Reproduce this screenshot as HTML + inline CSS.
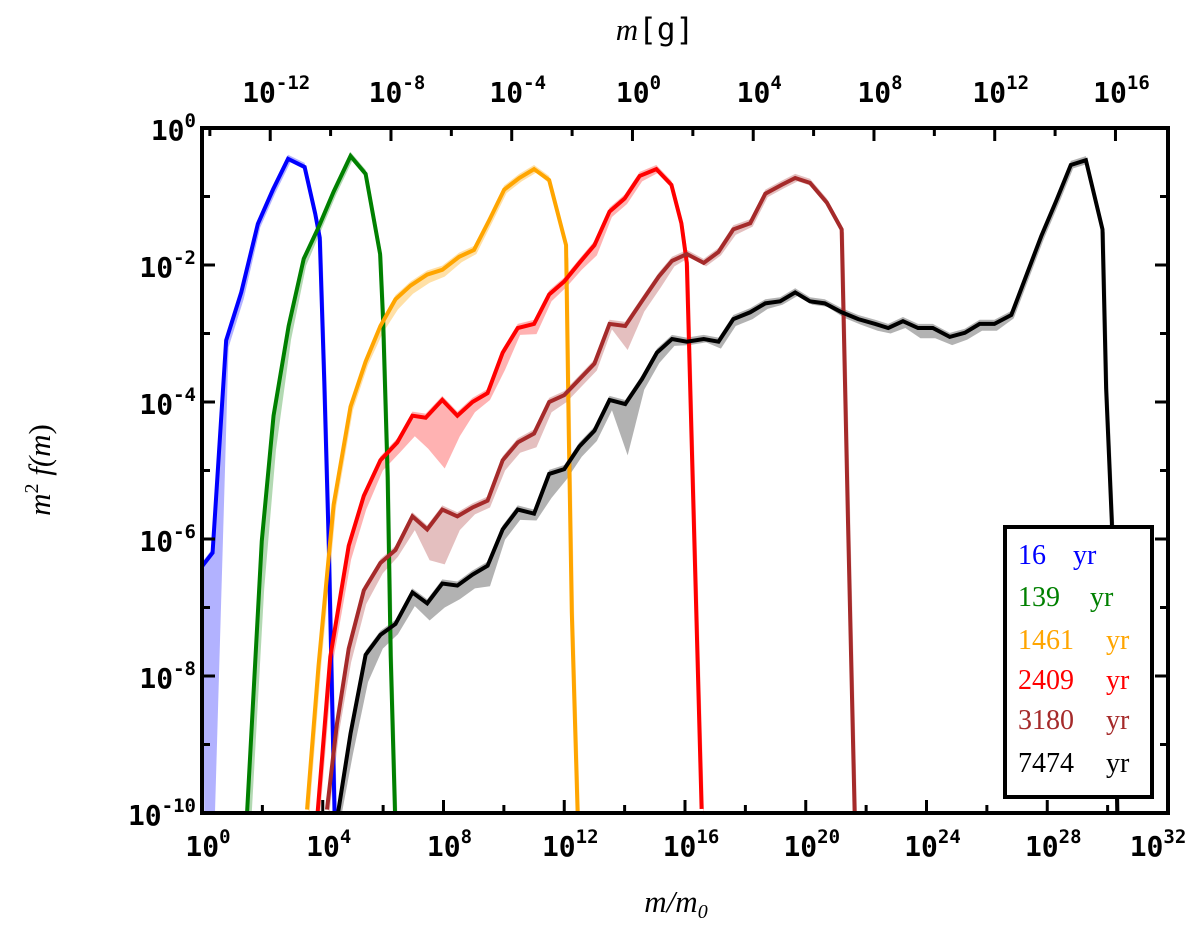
<!DOCTYPE html>
<html><head><meta charset="utf-8"><style>
html,body{margin:0;padding:0;background:#fff}
svg{display:block}
.tk{font-family:"DejaVu Sans Mono","Liberation Mono",monospace;font-weight:bold;font-size:28px;fill:#000}
.sup{font-size:19px}
.ttl{font-family:"Liberation Serif",serif;font-style:italic;font-size:31px}
.lg{font-family:"Liberation Serif",serif;font-size:28px}
</style></head><body>
<svg id="chart" width="1200" height="948" viewBox="0 0 1200 948" xmlns="http://www.w3.org/2000/svg">
<defs><clipPath id="clip"><rect x="202" y="128" width="966" height="685"/></clipPath></defs>
<g id="bands" clip-path="url(#clip)"></g>
<g id="lines" clip-path="url(#clip)"></g>
<g id="axes"></g>
<text class="ttl" x="655" y="40" text-anchor="middle">m<tspan font-style="normal" font-family="DejaVu Sans Mono">[g]</tspan></text>
<text class="ttl" x="676" y="912" text-anchor="middle">m/m<tspan font-size="20" dy="6">0</tspan></text>
<text class="ttl" transform="translate(50,470) rotate(-90)" text-anchor="middle">m<tspan font-style="normal" font-size="20" dy="-12">2</tspan><tspan dy="12"> f(</tspan>m<tspan font-style="normal">)</tspan></text>
<g>
<rect x="1005" y="527" width="147" height="270" fill="#fff" stroke="#000" stroke-width="4"/>
<text class="lg" x="1018" y="564" fill="#0000ff">16<tspan x="1073">yr</tspan></text>
<text class="lg" x="1018" y="606" fill="#008000">139<tspan x="1090">yr</tspan></text>
<text class="lg" x="1018" y="649" fill="#ffa500">1461<tspan x="1106">yr</tspan></text>
<text class="lg" x="1018" y="689" fill="#ff0000">2409<tspan x="1106">yr</tspan></text>
<text class="lg" x="1018" y="729" fill="#a52a2a">3180<tspan x="1106">yr</tspan></text>
<text class="lg" x="1018" y="772" fill="#000">7474<tspan x="1106">yr</tspan></text>
</g>
</svg>
<script>
// log10(m/m0) and log10(m^2 f(m))
const blueX=[0,0.35,0.8,1.3,1.85,2.35,2.85,3.4,3.75,3.9,4.05,4.2,4.4];
const blueY=[-6.4,-6.2,-3.1,-2.4,-1.4,-0.9,-0.45,-0.57,-1.25,-1.6,-3.7,-6.1,-10.2];
const blueDn=[3.8,3.8,0.1,0.1,0.05,0.05,0.05,0.05,0.05,0.05,0.05,0.05,0.05];
const greenX=[1.48,1.98,2.37,2.87,3.37,3.86,4.36,4.92,5.42,5.9,6.0,6.15,6.25,6.4];
const greenY=[-10.1,-6.03,-4.2,-2.89,-1.91,-1.45,-0.93,-0.41,-0.67,-1.84,-2.82,-5.1,-7.7,-10.1];
const greenDn=[0.6,0.7,0.5,0.2,0.1,0.05,0.05,0.05,0.05,0.05,0.05,0.05,0.05,0.05];
const orangeX=[3.48,3.86,4.36,4.92,5.42,5.91,6.41,6.91,7.46,7.96,8.52,9.01,9.51,10.01,10.51,11.0,11.5,12.06,12.15,12.25,12.45];
const orangeY=[-9.95,-7.85,-5.5,-4.07,-3.41,-2.89,-2.5,-2.3,-2.14,-2.07,-1.88,-1.78,-1.35,-0.9,-0.73,-0.6,-0.76,-1.71,-4.46,-7.07,-10.1];
const orangeDn=[0.05,0.05,0.05,0.05,0.05,0.1,0.15,0.12,0.12,0.1,0.08,0.06,0.05,0.05,0.05,0.05,0.08,0.2,0.05,0.05,0.05];
const redX=[3.81,4.25,4.86,5.36,5.91,6.47,6.97,7.41,7.96,8.46,8.96,9.46,9.96,10.46,11.0,11.5,12.0,12.5,13.0,13.5,14.0,14.5,15.05,15.55,15.88,16.06,16.55];
const redY=[-10.1,-7.72,-6.1,-5.37,-4.85,-4.59,-4.2,-4.23,-3.97,-4.2,-4.0,-3.87,-3.28,-2.92,-2.86,-2.43,-2.24,-1.97,-1.71,-1.22,-1.03,-0.7,-0.6,-0.83,-1.39,-1.97,-9.94];
const redDn=[0.05,0.1,0.2,0.2,0.15,0.15,0.3,0.45,1.0,0.3,0.15,0.1,0.25,0.1,0.15,0.1,0.08,0.1,0.15,0.08,0.08,0.08,0.05,0.05,0.05,0.05,0.05];
const brownX=[4.14,4.47,4.86,5.36,5.91,6.41,6.97,7.46,7.96,8.46,8.96,9.46,9.96,10.46,11.0,11.5,12.0,12.5,13.0,13.5,14.02,14.57,15.13,15.57,16.06,16.62,17.11,17.6,18.16,18.66,19.2,19.65,20.14,20.7,21.19,21.4,21.62];
const brownY=[-9.95,-8.7,-7.6,-6.75,-6.35,-6.16,-5.67,-5.86,-5.57,-5.67,-5.54,-5.44,-4.85,-4.59,-4.46,-4.0,-3.9,-3.67,-3.44,-2.86,-2.89,-2.53,-2.17,-1.94,-1.84,-1.97,-1.81,-1.48,-1.39,-0.96,-0.83,-0.73,-0.8,-1.09,-1.48,-5.76,-10.0];
const brownDn=[0.05,0.1,0.2,0.2,0.15,0.1,0.2,0.45,0.8,0.2,0.1,0.1,0.15,0.15,0.2,0.15,0.1,0.1,0.1,0.08,0.35,0.15,0.15,0.08,0.05,0.05,0.05,0.08,0.05,0.05,0.05,0.05,0.05,0.05,0.05,0.05,0.05];
const blackX=[4.47,4.92,5.42,5.91,6.41,6.97,7.46,7.96,8.46,8.96,9.46,9.96,10.46,11.0,11.5,12.0,12.5,13.0,13.5,14.02,14.57,15.07,15.57,16.06,16.62,17.11,17.6,18.16,18.66,19.15,19.65,20.14,20.63,21.19,21.74,22.3,22.73,23.22,23.72,24.21,24.77,25.27,25.76,26.25,26.81,27.8,28.3,28.78,29.28,29.83,29.95,30.14,30.32];
const blackY=[-10.1,-8.84,-7.69,-7.4,-7.24,-6.78,-6.94,-6.65,-6.68,-6.52,-6.39,-5.86,-5.57,-5.63,-5.05,-4.98,-4.65,-4.42,-3.97,-4.03,-3.67,-3.28,-3.08,-3.12,-3.08,-3.12,-2.79,-2.69,-2.56,-2.53,-2.4,-2.53,-2.56,-2.69,-2.79,-2.86,-2.92,-2.82,-2.92,-2.92,-3.05,-2.99,-2.86,-2.86,-2.73,-1.58,-1.06,-0.54,-0.47,-1.48,-3.8,-5.76,-10.0];
const blackDn=[0.1,0.3,0.4,0.2,0.15,0.2,0.25,0.35,0.2,0.2,0.3,0.15,0.15,0.1,0.35,0.15,0.15,0.15,0.15,0.75,0.15,0.15,0.1,0.05,0.05,0.1,0.1,0.1,0.08,0.05,0.05,0.05,0.05,0.08,0.08,0.1,0.08,0.1,0.15,0.15,0.12,0.1,0.1,0.1,0.05,0.05,0.05,0.05,0.05,0.05,0.05,0.05,0.05];
const xTicksBottom=[0,4,8,12,16,20,24,28,32];
const yTicksLeft=[0,-2,-4,-6,-8,-10];
const xTicksTop=[-12,-8,-4,0,4,8,12,16];
const gramOffset=14.26;

const X0=202,X1=1168,Y0=128,Y1=813;
const sx=l=>X0+(l-0)/32*(X1-X0);
const sy=l=>Y0+(0-l)/10*(Y1-Y0);
const NS='http://www.w3.org/2000/svg';
function mk(tag,parent){const e=document.createElementNS(NS,tag);parent.appendChild(e);return e;}
const bands=document.getElementById('bands'),lines=document.getElementById('lines'),axes=document.getElementById('axes');

const series=[
 {n:'16yr',x:blueX,y:blueY,d:blueDn,c:'#0000ff',b:'rgba(0,0,255,0.3)'},
 {n:'139yr',x:greenX,y:greenY,d:greenDn,c:'#008000',b:'rgba(0,128,0,0.3)'},
 {n:'1461yr',x:orangeX,y:orangeY,d:orangeDn,c:'#ffa500',b:'rgba(255,165,0,0.35)'},
 {n:'2409yr',x:redX,y:redY,d:redDn,c:'#ff0000',b:'rgba(255,0,0,0.3)'},
 {n:'3180yr',x:brownX,y:brownY,d:brownDn,c:'#a52a2a',b:'rgba(165,42,42,0.3)'},
 {n:'7474yr',x:blackX,y:blackY,d:blackDn,c:'#000000',b:'rgba(0,0,0,0.3)'}
];
series.forEach(s=>{
  let up=[],dn=[];
  for(let i=0;i<s.x.length;i++){up.push(sx(s.x[i])+','+sy(s.y[i]+0.06));dn.push(sx(s.x[i]+0.08)+','+sy(s.y[i]-s.d[i]));}
  const p=mk('polygon',bands);
  p.setAttribute('points',up.concat(dn.reverse()).join(' '));
  p.setAttribute('fill',s.b);
  
  
});
series.forEach(s=>{
  const pts=s.x.map((v,i)=>sx(v)+','+sy(s.y[i])).join(' ');
  const l=mk('polyline',lines);
  l.setAttribute('points',pts);
  l.setAttribute('fill','none');
  l.setAttribute('stroke',s.c);
  l.setAttribute('stroke-width','4');
  l.setAttribute('stroke-linejoin','miter');
  
  
});
function line(x1,y1,x2,y2,w){const l=mk('line',axes);l.setAttribute('x1',x1);l.setAttribute('y1',y1);l.setAttribute('x2',x2);l.setAttribute('y2',y2);l.setAttribute('stroke','#000');l.setAttribute('stroke-width',w);
  
  }
for(let d=2;d<32;d+=2){const x=sx(d),L=d%4==0?13:8;line(x,Y1,x,Y1-L,3);}
for(let g=-14;g<=18;g+=2){const x=sx(g+gramOffset);if(x<=X0+3||x>=X1-3)continue;const L=g%4==0?13:8;line(x,Y0,x,Y0+L,3);}
for(let d=-9;d<0;d++){const y=sy(d),L=d%2==0?13:8;line(X0,y,X0+L,y,3);line(X1,y,X1-L,y,3);}
function lbl(x,y,exp,anchor,name){const t=mk('text',axes);t.setAttribute('class','tk');t.setAttribute('x',x);t.setAttribute('y',y);t.setAttribute('text-anchor',anchor);
  
  
  t.textContent='10';const s=document.createElementNS(NS,'tspan');s.setAttribute('class','sup');s.setAttribute('dy','-13');s.textContent=exp;t.appendChild(s);}
xTicksBottom.forEach(d=>lbl(sx(d)+(d===32?-10:6),856,String(d),'middle','x-tick-label'));
yTicksLeft.forEach(d=>lbl(196,sy(d)+12,String(d),'end','y-tick-label'));
xTicksTop.forEach(g=>lbl(sx(g+gramOffset)+6,102,String(g),'middle','top-tick-label'));
const fr=mk('rect',axes);fr.setAttribute('x',X0);fr.setAttribute('y',Y0);fr.setAttribute('width',X1-X0);fr.setAttribute('height',Y1-Y0);fr.setAttribute('fill','none');fr.setAttribute('stroke','#000');fr.setAttribute('stroke-width','4');


</script>
</body></html>
